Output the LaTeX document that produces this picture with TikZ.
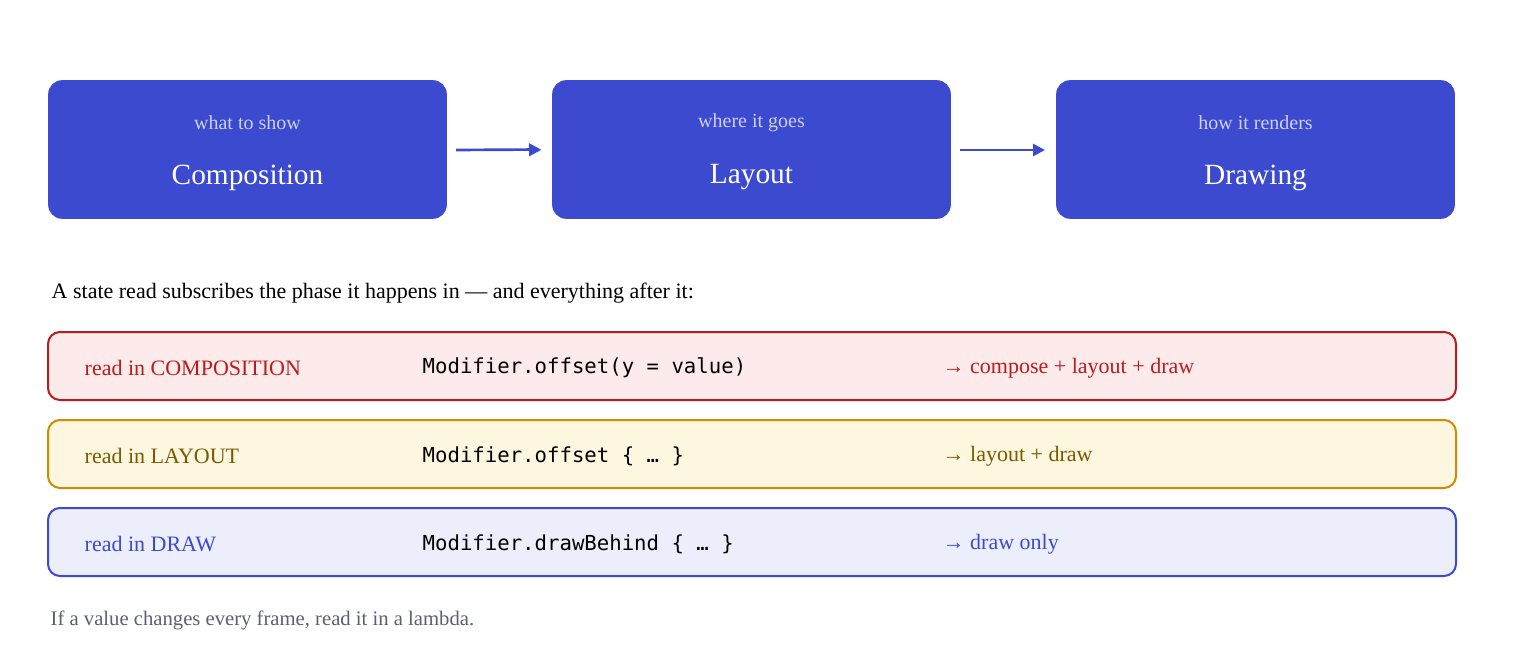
\documentclass[tikz,border=0pt]{standalone}
\usepackage{fontspec}
\setmainfont{Liberation Serif}
\setmonofont{DejaVu Sans Mono}
\usetikzlibrary{arrows.meta}
\definecolor{blu}{HTML}{3C4ACF}
\definecolor{sub}{HTML}{CDD1F7}
\definecolor{rs}{HTML}{B91C1C}
\definecolor{rf}{HTML}{FDEBEB}
\definecolor{ys}{HTML}{D08C00}
\definecolor{yf}{HTML}{FEF7E0}
\definecolor{yt}{HTML}{7A5A00}
\definecolor{bf}{HTML}{ECEEFB}
\definecolor{gr}{HTML}{5A6070}
\begin{document}
\begin{tikzpicture}[x=0.75pt,y=-0.75pt,
  phase/.style={fill=blu,rounded corners=10.5pt,minimum width=299pt,minimum height=104pt,inner sep=0pt},
  ttl/.style={text=white,font=\fontsize{22}{24}\selectfont},
  st/.style={text=sub,font=\fontsize{15}{17}\selectfont},
  row/.style={rounded corners=9pt,line width=1.5pt,minimum width=1056pt,minimum height=51pt,inner sep=0pt},
  lab/.style={anchor=west,font=\fontsize{16.5}{18}\selectfont},
  code/.style={anchor=west,font=\ttfamily\fontsize{15.5}{18}\selectfont},
  arr/.style={blu,line width=2pt,-{Triangle[length=9pt,width=9pt]}}]
\useasboundingbox (0,0) rectangle (1520,660);
\node[phase] (c) at (247.5,149.5) {};
\node[phase] (l) at (751.5,149.5) {};
\node[phase] (d) at (1255.5,149.5) {};
\foreach \n/\t/\s in {c/Composition/what to show,l/Layout/where it goes,d/Drawing/how it renders}{
  \node[ttl] (\n t) at ([yshift=-21pt]\n.center) {\t};
  \node[st] (\n s) at ([yshift=20pt]\n.center) {\s};}
\coordinate (a1) at (456,150); \coordinate (a2) at (960,150);
\draw[arr] (a1) -- (c.east -| 541,0);
\draw[arr] (a1) -- ++(85,0);
\draw[arr] (a2) -- ++(85,0);
\node[lab,anchor=west] (cap) at (47,293) {A state read subscribes the phase it happens in — and everything after it:};
\node[row,draw=rs,fill=rf] (r1) at (752,366) {};
\node[row,draw=ys,fill=yf] (r2) at (752,454) {};
\node[row,draw=blu,fill=bf] (r3) at (752,542) {};
\node[lab,text=rs] (r1a) at (80,368) {read in COMPOSITION};
\node[code] (r1b) at (418,368) {Modifier.offset(y = value)};
\node[lab,text=rs] (r1c) at (938,368) {→ compose + layout + draw};
\node[lab,text=yt] (r2a) at (80,456) {read in LAYOUT};
\node[code] (r2b) at (418,456) {Modifier.offset \{ … \}};
\node[lab,text=yt] (r2c) at (938,456) {→ layout + draw};
\node[lab,text=blu] (r3a) at (80,544) {read in DRAW};
\node[code] (r3b) at (418,544) {Modifier.drawBehind \{ … \}};
\node[lab,text=blu] (r3c) at (938,544) {→ draw only};
\node[lab,text=gr,font=\fontsize{15.5}{18}\selectfont] (ft) at (46,620) {If a value changes every frame, read it in a lambda.};
\end{tikzpicture}
\end{document}
